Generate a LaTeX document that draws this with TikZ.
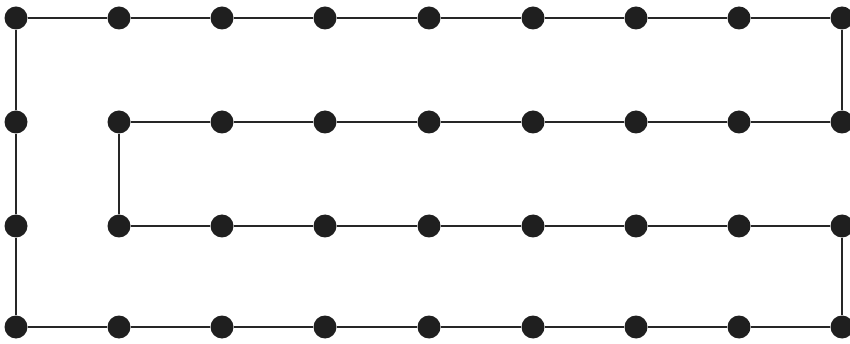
\documentclass[tikz,border=0pt]{standalone}
\begin{document}
\begin{tikzpicture}[x=1pt,y=-1pt,
  dot/.style={circle,fill=black!88,inner sep=0pt,minimum size=23pt},
  edge/.style={draw=black!85,line width=2.8pt}]
\useasboundingbox (0,0) rectangle (850,344);
\foreach \c/\x in {0/16,1/119,2/222,3/325,4/429,5/533,6/636,7/739,8/842}{
  \foreach \r/\y in {0/18,1/122,2/226,3/327}{
    \node[dot] (n\c\r) at (\x,\y) {};
  }
}
\path[edge] (n00) -- (n10) -- (n20) -- (n30) -- (n40) -- (n50) -- (n60) -- (n70) -- (n80)
  -- (n81) -- (n71) -- (n61) -- (n51) -- (n41) -- (n31) -- (n21) -- (n11)
  -- (n12) -- (n22) -- (n32) -- (n42) -- (n52) -- (n62) -- (n72) -- (n82)
  -- (n83) -- (n73) -- (n63) -- (n53) -- (n43) -- (n33) -- (n23) -- (n13) -- (n03)
  -- (n02) -- (n01) -- (n00);
\end{tikzpicture}
\end{document}
